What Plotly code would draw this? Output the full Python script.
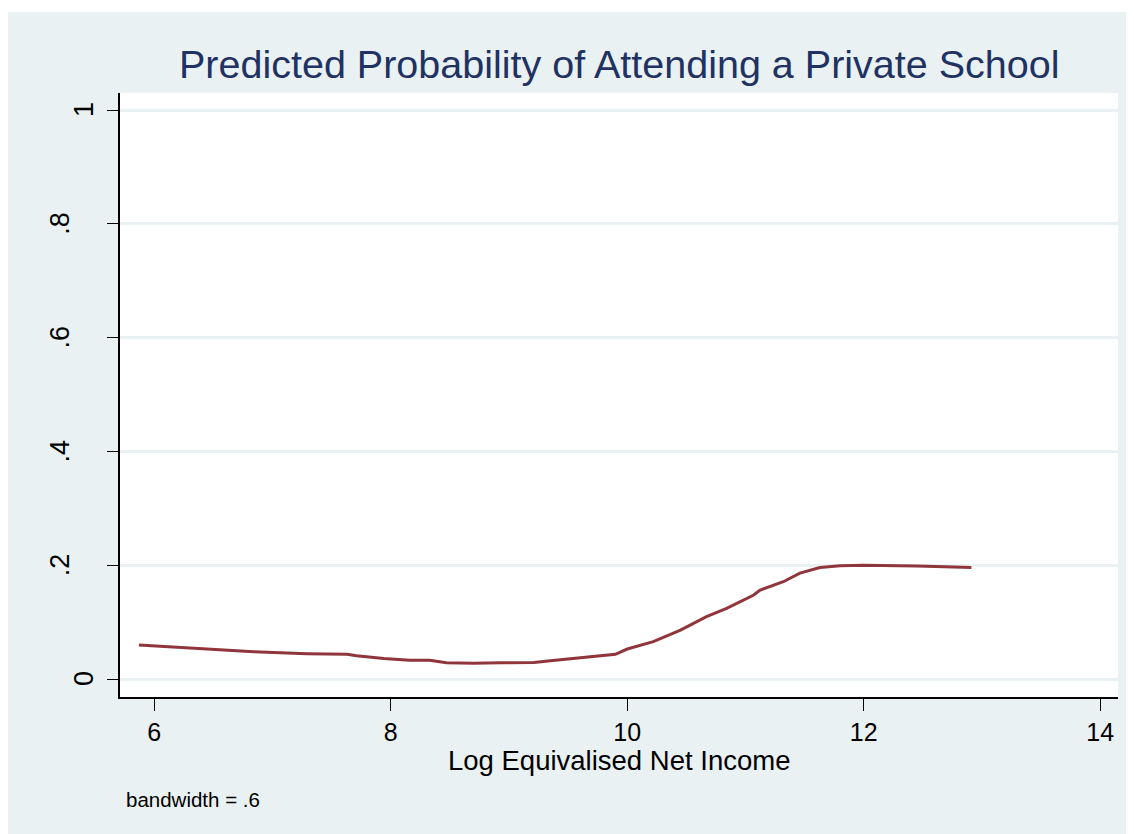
import plotly.graph_objects as go

# Data (lowess smooth, bandwidth .6)
log_income = [5.87, 6.20, 6.67, 6.84, 7.29, 7.63, 7.71, 7.94, 8.16, 8.33, 8.47, 8.70,
              8.93, 9.21, 9.35, 9.49, 9.66, 9.90, 10.00, 10.22, 10.45, 10.67, 10.84,
              11.07, 11.12, 11.32, 11.46, 11.63, 11.80, 12.00, 12.45, 12.91]
prob_private = [0.060, 0.056, 0.051, 0.048, 0.0445, 0.0434, 0.041, 0.036, 0.0328, 0.0328,
                 0.0287, 0.0275, 0.0287, 0.029, 0.032, 0.0346, 0.039, 0.0434, 0.0527,
                 0.0656, 0.086, 0.1095, 0.124, 0.1476, 0.156, 0.171, 0.186, 0.196, 0.199,
                 0.200, 0.1986, 0.196]

x_ticks = [6, 8, 10, 12, 14]
y_ticks = [0, 0.2, 0.4, 0.6, 0.8, 1]
y_tick_labels = ["0", ".2", ".4", ".6", ".8", "1"]

title_text = "Predicted Probability of Attending a Private School"
x_title = "Log Equivalised Net Income"
note_text = "bandwidth = .6"

BG = "#e9f1f3"
FONT = "Liberation Sans, Arial, sans-serif"

# the page body has an 8px margin; compensate so the plot lands where the reference has it
OFF = 8

fig = go.Figure()
fig.add_trace(go.Scatter(x=log_income, y=prob_private, mode="lines",
                         line=dict(color="#90353b", width=3), showlegend=False,
                         hoverinfo="skip"))

fig.update_layout(
    width=1134 - OFF, height=834 - OFF,
    margin=dict(l=120 - OFF, r=16, t=93 - OFF, b=137, pad=0),
    paper_bgcolor=BG, plot_bgcolor="white",
    font=dict(family=FONT, color="black"),
    showlegend=False,
    xaxis=dict(range=[5.71, 14.15], tickvals=x_ticks, ticks="outside", ticklen=12,
               tickwidth=1.3, tickcolor="black", showline=True, linecolor="black",
               linewidth=1.5, showgrid=False, zeroline=False,
               tickfont=dict(size=25, family=FONT, color="black")),
    yaxis=dict(range=[-0.0316, 1.0299], tickvals=y_ticks, ticks="outside", ticklen=11,
               tickwidth=1.3, tickcolor="black", showline=True, linecolor="black",
               linewidth=1.5, showgrid=True, gridcolor=BG, gridwidth=2.5,
               zeroline=False, showticklabels=False),
)

# rotated y tick labels (Stata style)
for v, lab in zip(y_ticks, y_tick_labels):
    shift = -24 if lab.startswith(".") else 0
    fig.add_annotation(x=0, xref="paper", y=v, yref="y", text=lab, showarrow=False,
                       textangle=-90, xanchor="right", yanchor="middle",
                       xshift=-19 + shift,
                       font=dict(size=27, family=FONT, color="black"))

fig.add_annotation(x=0.5, xref="paper", y=1 + 29 / 604, yref="paper", text=title_text,
                   showarrow=False, xanchor="center", yanchor="middle",
                   font=dict(size=39.5, family=FONT, color="#1f3261"))
fig.add_annotation(x=0.5, xref="paper", y=-63 / 604, yref="paper", text=x_title,
                   showarrow=False, xanchor="center", yanchor="middle",
                   font=dict(size=27.5, family=FONT, color="black"))
fig.add_annotation(x=4 / 998, xref="paper", y=-102 / 604, yref="paper", text=note_text,
                   showarrow=False, xanchor="left", yanchor="middle",
                   font=dict(size=20.5, family=FONT, color="black"))

# white strip at the top of the reference (gray starts 12px down)
fig.add_shape(type="rect", xref="paper", yref="paper", x0=-0.2, x1=1.1,
              y0=(697 - 12) / 604, y1=1.3, fillcolor="white", line_width=0, layer="above")

fig.write_html("out.html")
